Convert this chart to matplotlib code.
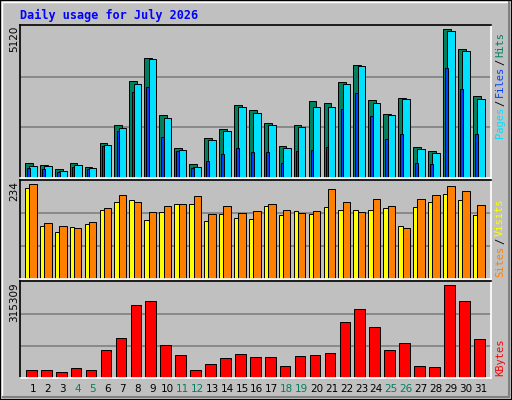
import matplotlib
matplotlib.use("Agg")
import matplotlib.pyplot as plt
from matplotlib.patches import Rectangle
from matplotlib.lines import Line2D

days = list(range(1, 32))
day_labels = [str(d) for d in days]
weekend_days = [4, 5, 11, 12, 18, 19, 25, 26]
hits = [498, 430, 295, 498, 363, 1177, 1787, 3279, 4025, 2126, 1007, 464, 1346, 1651, 2465, 2295,
        1855, 1075, 1787, 2601, 2533, 3245, 3787, 2635, 2160, 2702, 1041, 905, 5008, 4330, 2770]
files = [396, 396, 227, 430, 329, 1109, 1685, 3177, 3991, 2024, 939, 363, 1278, 1583, 2397, 2194,
         1787, 1007, 1719, 2397, 2397, 3177, 3753, 2533, 2126, 2668, 973, 837, 4940, 4262, 2668]
pages = [329, 295, 193, 363, 295, 1075, 1583, 2906, 3075, 1380, 905, 329, 566, 803, 1007, 871,
         871, 498, 905, 939, 1041, 2329, 2872, 2092, 1312, 1482, 498, 464, 3686, 3008, 1482]
sites = [217, 125, 111, 123, 130, 165, 184, 187, 139, 158, 177, 177, 137, 154, 144, 142,
         173, 151, 161, 154, 170, 165, 165, 163, 168, 125, 170, 184, 203, 187, 151]
visits = [225, 132, 125, 121, 135, 168, 199, 184, 158, 173, 177, 196, 154, 173, 156, 161,
          177, 165, 156, 161, 213, 182, 158, 191, 173, 121, 191, 199, 220, 210, 175]
kbytes = [26812, 26812, 20377, 33247, 26812, 91163, 129773, 239165, 252035, 107248, 75074, 26812,
          46117, 65421, 78292, 68639, 68639, 39682, 71857, 75074, 81510, 184470, 226296, 165165,
          91163, 113683, 39682, 36465, 303512, 252035, 126555]
max_hits, max_sites, max_kb = 5120, 234, 315309

W, H = 512, 400
BG = "#c0c0c0"
fig = plt.figure(figsize=(W / 100, H / 100), dpi=100, facecolor=BG)
mono = "DejaVu Sans Mono"

# outer bevel
fig.patches.append(Rectangle((0, 0), 1, 1, transform=fig.transFigure, fill=False, ec="black", lw=1.5))
fig.lines.append(Line2D([2/W, 2/W, 1-3/W], [3/H, 1-2/H, 1-2/H], transform=fig.transFigure, color="white", lw=1))
fig.lines.append(Line2D([3/W, 1-3/W, 1-3/W], [3/H, 3/H, 1-2/H], transform=fig.transFigure, color="#808080", lw=1.5))

X0, X1 = 20, 491
def ax_px(top, bottom):
    return fig.add_axes([X0 / W, 1 - bottom / H, (X1 - X0) / W, (bottom - top) / H])

def style(ax, vmax):
    ax.set_facecolor(BG)
    ax.set_xlim(0.13, 31.68)
    ax.set_ylim(0, vmax * 1.005)
    ax.set_xticks([]); ax.set_yticks([])
    for y in (vmax / 3, 2 * vmax / 3):
        ax.axhline(y, color="#808080", lw=1.2, zorder=0)
    ax.spines["left"].set_color("black"); ax.spines["top"].set_color("black")
    ax.spines["right"].set_color("white"); ax.spines["bottom"].set_color("white")
    for s in ax.spines.values():
        s.set_linewidth(1.2)

ekw = dict(edgecolor="black", linewidth=0.7, zorder=2)

ax1 = ax_px(25, 178)
style(ax1, max_hits)
ax1.bar([d - 0.28 for d in days], hits, width=0.52, color="#00805f", **ekw)
ax1.bar(days, files, width=0.5, color="#00e0ff", **ekw)
ax1.bar([d - 0.31 for d in days], pages, width=0.18, color="#0040ff", **ekw)

ax2 = ax_px(180, 279)
style(ax2, max_sites)
ax2.bar([d - 0.39 for d in days], sites, width=0.3, color="#ffff00", **ekw)
ax2.bar(days, visits, width=0.49, color="#ff8000", **ekw)

ax3 = ax_px(281, 378)
style(ax3, max_kb)
ax3.bar([d - 0.11 for d in days], kbytes, width=0.71, color="#ff0000", **ekw)

for d, lab in zip(days, day_labels):
    ax3.text(d, -0.11, lab, transform=ax3.get_xaxis_transform(), ha="center", va="center",
             fontsize=7.5, family="DejaVu Sans",
             color="#00805f" if d in weekend_days else "black")

fig.text(X0 / W, 1 - 15 / H, "Daily usage for July 2026", color="#0000ff", fontsize=8.5,
         family=mono, weight="bold", va="center", ha="left")

for top, txt in ((26, "5120"), (181, "234"), (282, "315309")):
    fig.text(14 / W, 1 - top / H, txt, rotation=90, ha="center", va="top", fontsize=7.5,
             family="DejaVu Sans")

def right_label(bottom_px, parts):
    y = bottom_px
    cw = 6.1
    for txt, col in parts:
        fig.text(500 / W, 1 - y / H, txt, rotation=90, ha="center", va="bottom",
                 fontsize=7.5, family=mono, color=col)
        y -= cw * len(txt) + 2

right_label(138, [("Pages", "#00e0ff"), ("/", "black"), ("Files", "#0040ff"), ("/", "black"), ("Hits", "#00805f")])
right_label(277, [("Sites", "#ff8000"), ("/", "black"), ("Visits", "#ffff00")])
right_label(376, [("KBytes", "#ff0000")])

fig.savefig("out.png", dpi=100, facecolor=BG)
